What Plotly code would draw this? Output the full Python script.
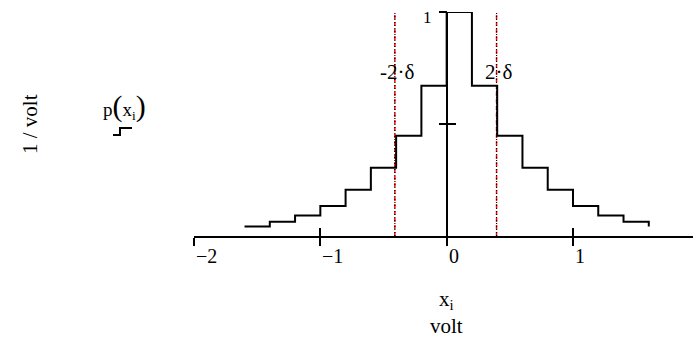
import plotly.graph_objects as go

# ---------------- data ----------------
x_i = [-1.6, -1.4, -1.2, -1.0, -0.8, -0.6, -0.4, -0.2, 0.0,
       0.2, 0.4, 0.6, 0.8, 1.0, 1.2, 1.4, 1.6]
p_x = [0.042, 0.064, 0.091, 0.134, 0.206, 0.305, 0.447, 0.671, 1.0,
       0.671, 0.447, 0.305, 0.206, 0.134, 0.091, 0.064, 0.042]
x_ticks = [-2, -1, 0, 1, 2]
x_tick_labels = ["\u22122", "\u22121", "0", "1", "2"]
y_ticks = [0.5, 1]
y_tick_label = "1"
marker_x = [-0.41, 0.395]
marker_labels = ["-2\u00b7\u03b4", "2\u00b7\u03b4"]

FONT = "Liberation Serif"
W, H = 693, 340
ML, MR, MT, MB = 194, 0, 12, 104
XR = [-2, 1.95]
YR = [0, 1]
PW = W - ML - MR
PH = H - MT - MB


def paper_x(px):
    return (px - ML) / PW


def paper_y(py):
    return (H - MB - py) / PH


fig = go.Figure()

# marker lines (red dashed + black dotted)
for mx in marker_x:
    fig.add_trace(go.Scatter(x=[mx, mx], y=YR, mode="lines",
                             line=dict(color="red", width=1.5, dash="4px,3px"),
                             showlegend=False, hoverinfo="skip", cliponaxis=False))
    fig.add_trace(go.Scatter(x=[mx, mx], y=YR, mode="lines",
                             line=dict(color="black", width=1.2, dash="1px,2px"),
                             showlegend=False, hoverinfo="skip", cliponaxis=False))

# step trace
fig.add_trace(go.Scatter(x=x_i, y=p_x, mode="lines",
                         line=dict(shape="hv", color="black", width=2),
                         showlegend=False, hoverinfo="skip", cliponaxis=False))

# dummy trace to make the overlay axes exist
fig.add_trace(go.Scatter(x=[None], y=[None], xaxis="x2", yaxis="y2",
                         showlegend=False, hoverinfo="skip"))

ypos = paper_x(ML + (0 - XR[0]) / (XR[1] - XR[0]) * PW)

common_tick = dict(tickwidth=2, tickcolor="black", ticklen=8, showgrid=False,
                   showticklabels=False)

fig.update_layout(
    width=W, height=H,
    margin=dict(l=ML, r=MR, t=MT, b=MB),
    plot_bgcolor="white", paper_bgcolor="white",
    showlegend=False,
    xaxis=dict(range=XR, zeroline=True, zerolinecolor="black", zerolinewidth=2,
               showline=True, linecolor="black", linewidth=2,
               ticks="outside", tickvals=x_ticks, **common_tick),
    xaxis2=dict(range=XR, overlaying="x", anchor="y", side="bottom",
                zeroline=False, showline=False,
                ticks="inside", tickvals=x_ticks, **common_tick),
    yaxis=dict(range=YR, anchor="free", position=ypos, side="left",
               zeroline=False, showline=False,
               ticks="outside", tickvals=y_ticks, **common_tick),
    yaxis2=dict(range=YR, overlaying="y", anchor="free", position=ypos, side="left",
                zeroline=False, showline=False,
                ticks="inside", tickvals=y_ticks, **common_tick),
)

ann = []
for v, t in zip(x_ticks, x_tick_labels):
    if v > XR[1]:
        continue
    ann.append(dict(x=v, y=0, xref="x", yref="y", text=t, showarrow=False,
                    xanchor="left", yanchor="top", xshift=0, yshift=-7,
                    font=dict(family=FONT, size=20, color="black")))

ann.append(dict(x=0, y=y_ticks[-1], xref="x", yref="y", text=y_tick_label,
                showarrow=False, xanchor="right", yanchor="middle",
                xshift=-13, yshift=-5,
                font=dict(family=FONT, size=17, color="black")))

for mx, t in zip(marker_x, marker_labels):
    ann.append(dict(x=mx, y=0.73, xref="x", yref="y", text=t, showarrow=False,
                    xanchor="center", yanchor="middle", xshift=2,
                    font=dict(family=FONT, size=21, color="black")))

ann.append(dict(x=paper_x(30), y=paper_y(124), xref="paper", yref="paper",
                text="1 / volt", textangle=-90, showarrow=False,
                xanchor="center", yanchor="middle",
                font=dict(family=FONT, size=21, color="black")))

ann.append(dict(x=paper_x(124), y=paper_y(106), xref="paper", yref="paper",
                text="p<span style='font-size:30px'>(</span>x<sub>i</sub><span style='font-size:30px'>)</span>",
                showarrow=False, xanchor="center", yanchor="middle",
                font=dict(family=FONT, size=19, color="black")))

ann.append(dict(x=0, y=paper_y(300), xref="x", yref="paper",
                text="x<sub>i</sub>", showarrow=False,
                xanchor="center", yanchor="middle",
                font=dict(family=FONT, size=21, color="black")))

ann.append(dict(x=0, y=paper_y(326), xref="x", yref="paper",
                text="volt", showarrow=False,
                xanchor="center", yanchor="middle",
                font=dict(family=FONT, size=21, color="black")))

fig.update_layout(annotations=ann)

# small step symbol under the trace label
sym = [(113, 135), (120, 135), (120, 128), (132, 128)]
path = "M " + " L ".join(f"{paper_x(a):.5f},{paper_y(b):.5f}" for a, b in sym)
fig.add_shape(type="path", path=path, xref="paper", yref="paper",
              line=dict(color="black", width=2))

fig.write_html("out.html",
               config={"displayModeBar": False},
               post_script="document.body.style.margin='0px';document.body.style.padding='0px';")
